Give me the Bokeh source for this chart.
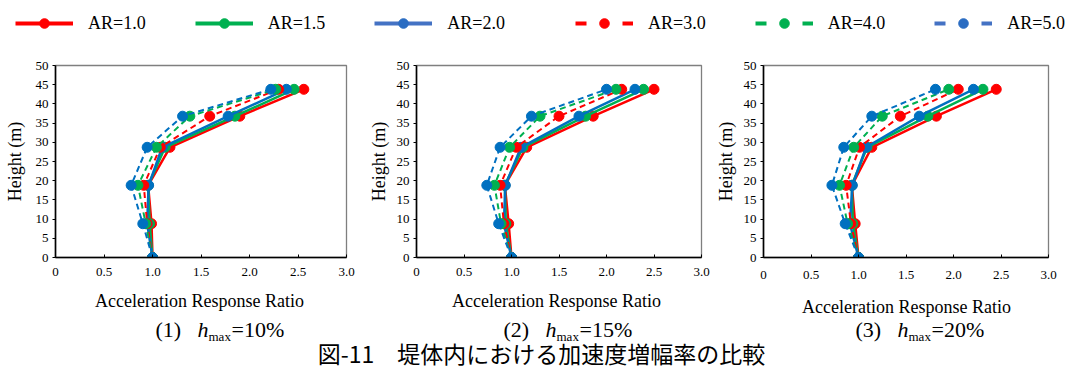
from bokeh.plotting import figure
from bokeh.layouts import column, row
from bokeh.models import Range1d, FixedTicker, Label, Legend, LegendItem, CustomJSTickFormatter
from bokeh.embed import file_html
from bokeh.resources import INLINE

# ---------------- data ----------------
heights = [0, 8.8, 18.8, 28.7, 36.8, 43.8]
ar_labels = ["AR=1.0", "AR=1.5", "AR=2.0", "AR=3.0", "AR=4.0", "AR=5.0"]

# hmax = 10%
h10_ar10 = [1.00, 0.99, 0.955, 1.18, 1.90, 2.56]
h10_ar15 = [1.00, 0.97, 0.955, 1.13, 1.85, 2.46]
h10_ar20 = [1.00, 0.945, 0.96, 1.10, 1.78, 2.38]
h10_ar30 = [1.00, 0.945, 0.91, 1.08, 1.59, 2.30]
h10_ar40 = [1.00, 0.93, 0.85, 1.04, 1.385, 2.27]
h10_ar50 = [1.00, 0.90, 0.78, 0.945, 1.31, 2.22]

# hmax = 15%
h15_ar10 = [1.00, 0.97, 0.93, 1.16, 1.86, 2.50]
h15_ar15 = [1.00, 0.94, 0.93, 1.12, 1.78, 2.39]
h15_ar20 = [1.00, 0.92, 0.935, 1.10, 1.71, 2.30]
h15_ar30 = [1.00, 0.92, 0.88, 1.05, 1.50, 2.16]
h15_ar40 = [1.00, 0.89, 0.82, 0.98, 1.30, 2.10]
h15_ar50 = [1.00, 0.865, 0.74, 0.88, 1.21, 2.00]

# hmax = 20%
h20_ar10 = [1.00, 0.965, 0.93, 1.14, 1.82, 2.45]
h20_ar15 = [1.00, 0.94, 0.93, 1.09, 1.73, 2.31]
h20_ar20 = [1.00, 0.91, 0.935, 1.08, 1.64, 2.21]
h20_ar30 = [1.00, 0.92, 0.87, 1.01, 1.44, 2.05]
h20_ar40 = [1.00, 0.885, 0.80, 0.95, 1.25, 1.95]
h20_ar50 = [1.00, 0.86, 0.72, 0.845, 1.14, 1.81]

x_ticks = [0, 0.5, 1.0, 1.5, 2.0, 2.5, 3.0]
y_ticks = [0, 5, 10, 15, 20, 25, 30, 35, 40, 45, 50]
x_title = "Acceleration Response Ratio"
y_title = "Height (m)"
captions = [("(1)", "=10%"), ("(2)", "=15%"), ("(3)", "=20%")]
fig_title = "図-11　堤体内における加速度増幅率の比較"

# ---------------- styles ----------------
COLORS = ["#FF0000", "#00B050", "#0070C0", "#FF0000", "#00B050", "#0070C0"]
LEG_LINE = ["#FF0000", "#00B050", "#4472C4", "#FF0000", "#00B050", "#4472C4"]
LEG_DOT = ["#FF0000", "#00B050", "#2A6CC2", "#FF0000", "#00B050", "#2A6CC2"]
SERIF = "Liberation Serif"
NAN = float("nan")


def make_panel(series, w, bl, br, bt, bb, x_standoff, lab_standoff):
    p = figure(width=w, height=244, x_range=Range1d(0, 3), y_range=Range1d(0, 50),
               output_backend="svg", toolbar_location=None,
               min_border_left=bl, min_border_right=br, min_border_top=bt, min_border_bottom=bb)
    p.grid.visible = False
    p.outline_line_color = "#7F7F7F"
    p.outline_line_width = 1.3

    xa = p.xaxis[0]
    ya = p.yaxis[0]
    xa.ticker = FixedTicker(ticks=x_ticks)
    xa.formatter = CustomJSTickFormatter(code="return tick == 0 ? '0' : tick.toFixed(1);")
    ya.ticker = FixedTicker(ticks=y_ticks)
    for ax in (xa, ya):
        ax.axis_line_color = "black"
        ax.axis_line_width = 1.6
        ax.major_tick_line_color = "black"
        ax.major_tick_line_width = 1
        ax.minor_tick_line_color = None
        ax.major_label_text_font = SERIF
        ax.major_label_text_font_size = "13px"
        ax.major_label_text_color = "black"
    xa.major_tick_in = 3
    xa.major_tick_out = 0
    xa.major_label_standoff = x_standoff
    ya.major_tick_in = 0
    ya.major_tick_out = 3
    ya.major_label_standoff = 4
    ya.axis_label = y_title
    ya.axis_label_text_font = SERIF
    ya.axis_label_text_font_size = "18px"
    ya.axis_label_text_font_style = "normal"
    ya.axis_label_text_color = "black"
    ya.axis_label_standoff = lab_standoff

    for i, vals in enumerate(series):
        dashed = i >= 3
        p.line(x=vals, y=heights, line_color=COLORS[i], line_width=2.0 if dashed else 2.5,
               line_dash="6 4" if dashed else "solid")
        p.scatter(x=vals, y=heights, marker="circle", size=10, fill_color=COLORS[i],
                  line_color=COLORS[i])
    return p


# row spans page y 46..290 ; page x 0..1089
p1 = make_panel([h10_ar10, h10_ar15, h10_ar20, h10_ar30, h10_ar40, h10_ar50],
                365, 55, 19, 14, 33, 10, 8)
p2 = make_panel([h15_ar10, h15_ar15, h15_ar20, h15_ar30, h15_ar40, h15_ar50],
                347, 47, 11, 15, 32, 10, 5)
p3 = make_panel([h20_ar10, h20_ar15, h20_ar20, h20_ar30, h20_ar40, h20_ar50],
                377, 46, 41, 19, 29, 13, 5)


# ---------------- legend strip (page y 0..46) ----------------
def legend_strip(width, idx, margin):
    f = figure(width=width, height=46, x_range=Range1d(0, 1), y_range=Range1d(0, 1),
               output_backend="svg", toolbar_location=None, min_border=0,
               x_axis_type=None, y_axis_type=None)
    f.outline_line_color = None
    its = []
    for i in idx:
        dashed = i >= 3
        rl = f.line(x=[NAN], y=[NAN], line_color=LEG_LINE[i], line_width=4,
                    line_dash="11 36" if dashed else "solid")
        rd = f.scatter(x=[NAN], y=[NAN], marker="circle", size=10, fill_color=LEG_DOT[i],
                       line_color=LEG_DOT[i])
        its.append(LegendItem(label=ar_labels[i], renderers=[rl, rd]))
    lg = Legend(items=its, location="center_left", orientation="horizontal", glyph_width=58,
                glyph_height=24, label_standoff=15, spacing=49, padding=0, margin=margin,
                border_line_color=None, background_fill_alpha=0,
                label_text_font=SERIF, label_text_font_size="18px", label_text_color="black")
    f.add_layout(lg)
    return f


leg1 = legend_strip(575, [0, 1, 2], 15)
leg2 = legend_strip(514, [3, 4, 5], 0)

# ---------------- caption strip (page y 290..369) ----------------
cap = figure(width=1089, height=79, x_range=Range1d(0, 1089), y_range=Range1d(79, 0),
             output_backend="svg", toolbar_location=None, min_border=0,
             x_axis_type=None, y_axis_type=None)
cap.outline_line_color = None
for xc, yc in ((199, 10), (556, 10), (906, 16)):
    cap.add_layout(Label(x=xc, y=yc, text=x_title, text_align="center", text_baseline="middle",
                         text_font=SERIF, text_font_size="18px", text_color="black"))
for k, (num, pct) in enumerate(captions):
    off = [0, 348, 700][k]
    cap.add_layout(Label(x=155 + off, y=39, text=num, text_font=SERIF, text_font_size="22px",
                         text_baseline="middle", text_color="black"))
    cap.add_layout(Label(x=197 + off, y=39, text="h", text_font=SERIF, text_font_size="22px",
                         text_font_style="italic", text_baseline="middle", text_color="black"))
    cap.add_layout(Label(x=208 + off, y=46, text="max", text_font=SERIF, text_font_size="13px",
                         text_baseline="middle", text_color="black"))
    cap.add_layout(Label(x=231 + off, y=39, text=pct, text_font=SERIF, text_font_size="22px",
                         text_baseline="middle", text_color="black"))
cap.add_layout(Label(x=541, y=62, text=fig_title, text_font="Noto Sans CJK JP",
                     text_font_size="23px", text_align="center", text_baseline="middle",
                     text_color="black"))

layout = column(row(leg1, leg2, spacing=0), row(p1, p2, p3, spacing=0), cap, spacing=0)
open("out.html", "w").write(file_html(layout, INLINE))
